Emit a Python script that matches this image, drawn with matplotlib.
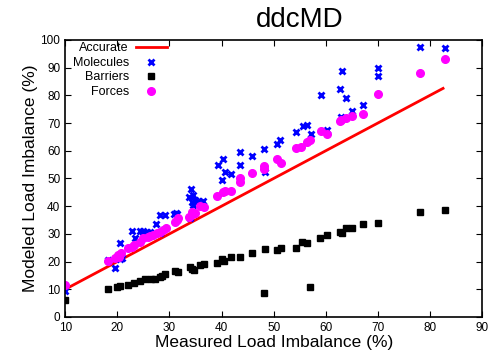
import matplotlib.pyplot as plt

plt.rcParams['font.family'] = ['Liberation Sans', 'DejaVu Sans']

# Molecules (blue x)
mol_x = [10, 18.3, 19.6, 20.5, 20.5, 20.9, 22.8, 23.4, 24.4, 25.0, 25.7, 26.2, 25.0,
         27.4, 28.2, 29.1, 28.1, 30.8, 31.2, 31.5, 33.7, 34.2, 34.6, 34.3, 34.6, 34.9,
         35.4, 36.5, 34.0, 39.3, 40.2, 40.0, 40.6, 41.9, 43.5, 43.5, 45.8, 48.2, 48.3,
         50.6, 51.3, 54.2, 55.6, 56.3, 57.1, 59.0, 60.2, 62.8, 63.2, 63.8, 63.0, 65.1,
         67.1, 70.1, 70.1, 78.1, 82.9]
mol_y = [9.3, 20.7, 17.6, 26.7, 21.0, 21.4, 31.0, 28.6, 30.9, 31.2, 30.8, 30.6, 29.2,
         33.4, 36.8, 36.8, 30.2, 37.2, 37.7, 37.0, 43.2, 46.3, 44.2, 41.6, 40.4, 42.2,
         41.8, 42.0, 35.6, 55.0, 57.0, 49.4, 52.4, 51.6, 59.7, 54.7, 58.0, 60.8, 52.2,
         62.5, 63.9, 66.9, 68.8, 69.2, 65.9, 80.0, 67.4, 82.1, 88.6, 79.2, 72.3, 74.3,
         76.4, 89.9, 86.9, 97.6, 97.0]

# Barriers (black squares)
bar_x = [10, 18.3, 20.0, 20.5, 22.1, 23.2, 24.4, 25.4, 26.4, 27.3, 28.2, 28.6, 29.2,
         31.1, 31.6, 34.0, 34.3, 34.8, 35.8, 36.6, 39.2, 40.1, 40.5, 41.8, 43.5, 45.8,
         48.2, 48.3, 50.6, 51.4, 54.2, 55.4, 56.3, 56.9, 58.8, 60.2, 62.7, 63.1, 63.8,
         65.0, 67.1, 70.0, 78.1, 82.9]
bar_y = [6.1, 10.0, 10.9, 11.1, 11.5, 12.4, 13.0, 13.6, 13.6, 13.6, 14.5, 14.7, 15.5,
         16.7, 16.3, 18.0, 17.2, 17.0, 18.8, 19.0, 19.4, 20.8, 20.3, 21.6, 21.8, 23.0,
         8.5, 24.5, 24.2, 24.8, 24.8, 27.0, 26.6, 10.7, 28.4, 29.5, 30.6, 30.2, 32.0,
         32.0, 33.5, 33.8, 37.8, 38.5]

# Forces (magenta circles)
frc_x = [10, 18.3, 19.6, 20.2, 20.7, 20.4, 22.1, 22.8, 23.2, 24.4, 25.0, 25.8, 26.3,
         26.9, 27.6, 28.2, 28.8, 29.4, 31.1, 31.4, 31.7, 33.7, 34.3, 34.6, 34.9, 35.8,
         36.6, 39.2, 40.2, 40.7, 41.8, 43.5, 43.5, 45.8, 48.2, 48.2, 50.7, 51.4, 54.2,
         55.3, 56.3, 57.0, 59.0, 60.3, 62.7, 63.0, 63.9, 65.1, 67.1, 70.1, 78.1, 82.9]
frc_y = [11.5, 20.2, 21.2, 22.4, 23.0, 21.5, 24.8, 25.4, 26.0, 27.2, 28.4, 28.8, 29.2,
         29.6, 30.2, 30.8, 31.4, 32.0, 34.2, 35.0, 35.7, 36.2, 38.0, 37.3, 37.7, 39.9,
         39.8, 43.8, 45.2, 45.5, 45.6, 50.2, 48.6, 52.1, 54.5, 53.4, 56.9, 55.7, 61.0,
         61.3, 63.3, 63.7, 67.3, 66.1, 70.6, 71.1, 71.8, 72.6, 73.3, 80.5, 88.0, 93.0]

acc_x = [10, 82.5]
acc_y = [10, 82.5]

fig = plt.figure(figsize=(4.94, 3.53), dpi=100)
ax = fig.add_axes([0.132, 0.102, 0.844, 0.785])

ax.plot(acc_x, acc_y, color='#ff0000', linewidth=2, label='Accurate')
ax.plot(mol_x, mol_y, linestyle='none', marker='x', markersize=5, markeredgewidth=2,
        color='#0000ff', label='Molecules')
ax.plot(bar_x, bar_y, linestyle='none', marker='s', markersize=4.5,
        color='black', label='Barriers')
ax.plot(frc_x, frc_y, linestyle='none', marker='o', markersize=5.5,
        color='#ff00ff', label='Forces')

ax.set_xlim(10, 90)
ax.set_ylim(0, 100)
ax.set_xticks(range(10, 91, 10))
ax.set_yticks(range(0, 101, 10))
ax.tick_params(direction='in', top=True, right=True, length=4, labelsize=8.5)
for s in ax.spines.values():
    s.set_linewidth(1.2)

ax.set_xlabel('Measured Load Imbalance (%)', fontsize=12.5, labelpad=1)
ax.set_ylabel('Modeled Load Imbalance (%)', fontsize=12.5, labelpad=2)
fig.text(300 / 494, 1 - 20 / 353, 'ddcMD', fontsize=20, ha='center', va='center')

leg = ax.legend(loc='upper left', frameon=False, markerfirst=False, fontsize=9,
                handlelength=2.5, labelspacing=0.2, borderaxespad=0, borderpad=0.2,
                handletextpad=0.55, bbox_to_anchor=(0.012, 1.0))
for t in leg.get_texts():
    t.set_ha('right')

fig.savefig('out.png', dpi=100)
